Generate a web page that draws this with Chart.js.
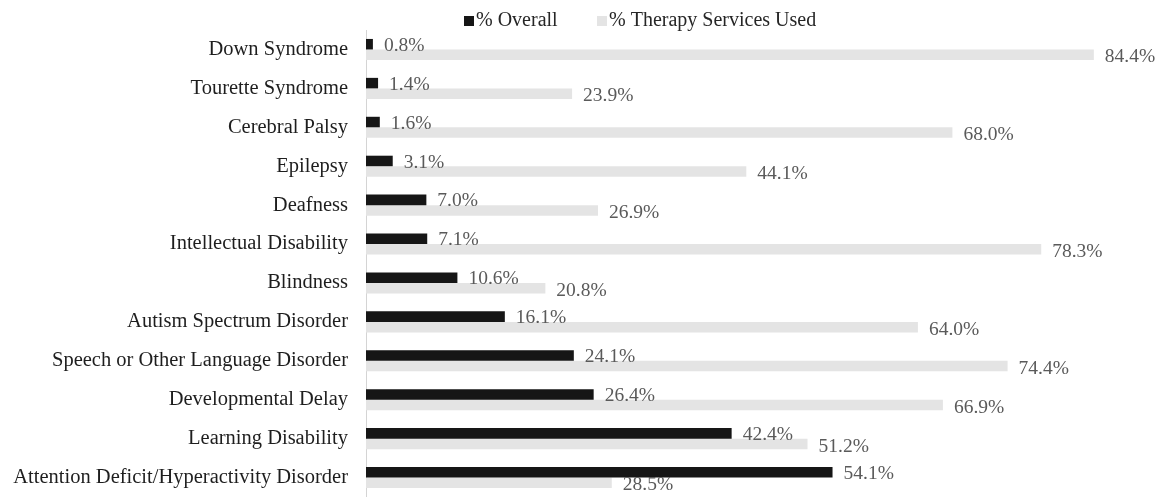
<!DOCTYPE html>
<html>
<head>
<meta charset="utf-8">
<script src="https://cdn.jsdelivr.net/npm/chart.js@4"></script>
<style>
html,body{margin:0;padding:0;background:#fff;overflow:hidden;}
canvas{display:block;}
</style>
</head>
<body>
<canvas id="c" width="1173" height="497" style="width:1173px;height:497px;"></canvas>
<script>
const categories = [
  "Down Syndrome",
  "Tourette Syndrome",
  "Cerebral Palsy",
  "Epilepsy",
  "Deafness",
  "Intellectual Disability",
  "Blindness",
  "Autism Spectrum Disorder",
  "Speech or Other Language Disorder",
  "Developmental Delay",
  "Learning Disability",
  "Attention Deficit/Hyperactivity Disorder"
];
const overallValues = [0.8, 1.4, 1.6, 3.1, 7.0, 7.1, 10.6, 16.1, 24.1, 26.4, 42.4, 54.1];
const therapyValues = [84.4, 23.9, 68.0, 44.1, 26.9, 78.3, 20.8, 64.0, 74.4, 66.9, 51.2, 28.5];
const seriesNames = ["% Overall", "% Therapy Services Used"];

const FONT = '"Liberation Serif", "Times New Roman", serif';

const valueLabels = {
  id: 'valueLabels',
  afterDatasetsDraw(chart) {
    const ctx = chart.ctx;
    ctx.save();
    ctx.font = '19.5px ' + FONT;
    ctx.fillStyle = '#5a5a5a';
    ctx.textAlign = 'left';
    ctx.textBaseline = 'middle';
    chart.data.datasets.forEach((ds, i) => {
      const meta = chart.getDatasetMeta(i);
      const dy = i === 0 ? 1.5 : 2.5;
      meta.data.forEach((bar, j) => {
        ctx.fillText(ds.data[j].toFixed(1) + '%', bar.x + 11, bar.y + dy);
      });
    });
    ctx.restore();
  }
};

const customLegend = {
  id: 'customLegend',
  afterDraw(chart) {
    const ctx = chart.ctx;
    ctx.save();
    ctx.font = '20px ' + FONT;
    ctx.textBaseline = 'middle';
    ctx.textAlign = 'left';
    const starts = [464, 597];
    chart.data.datasets.forEach((ds, i) => {
      const x = starts[i];
      ctx.fillStyle = ds.backgroundColor;
      ctx.fillRect(x, 16, 10, 10);
      ctx.fillStyle = '#262626';
      ctx.fillText(ds.label, x + 12, 21);
    });
    ctx.restore();
  }
};

new Chart(document.getElementById('c'), {
  type: 'bar',
  data: {
    labels: categories,
    datasets: [
      {
        label: seriesNames[0],
        data: overallValues,
        backgroundColor: '#161616',
        borderWidth: 0,
        barPercentage: 1.0,
        categoryPercentage: 0.54
      },
      {
        label: seriesNames[1],
        data: therapyValues,
        backgroundColor: '#e4e4e4',
        borderWidth: 0,
        barPercentage: 1.0,
        categoryPercentage: 0.54
      }
    ]
  },
  options: {
    indexAxis: 'y',
    responsive: false,
    animation: false,
    devicePixelRatio: 1,
    layout: { padding: { top: 30, right: 74, bottom: 0, left: 0 } },
    plugins: {
      legend: { display: false },
      tooltip: { enabled: false }
    },
    scales: {
      x: {
        display: false,
        min: 0,
        max: 85
      },
      y: {
        grid: { display: false, drawTicks: false },
        border: { display: true, color: '#d4d4d4', width: 1 },
        afterFit(scale) {
          scale.width = 366;
          scale.paddingTop = 0;
          scale.paddingBottom = 0;
        },
        ticks: {
          color: '#1e1e1e',
          padding: 18,
          font: { family: FONT, size: 20.5 }
        }
      }
    }
  },
  plugins: [valueLabels, customLegend]
});
</script>
</body>
</html>
